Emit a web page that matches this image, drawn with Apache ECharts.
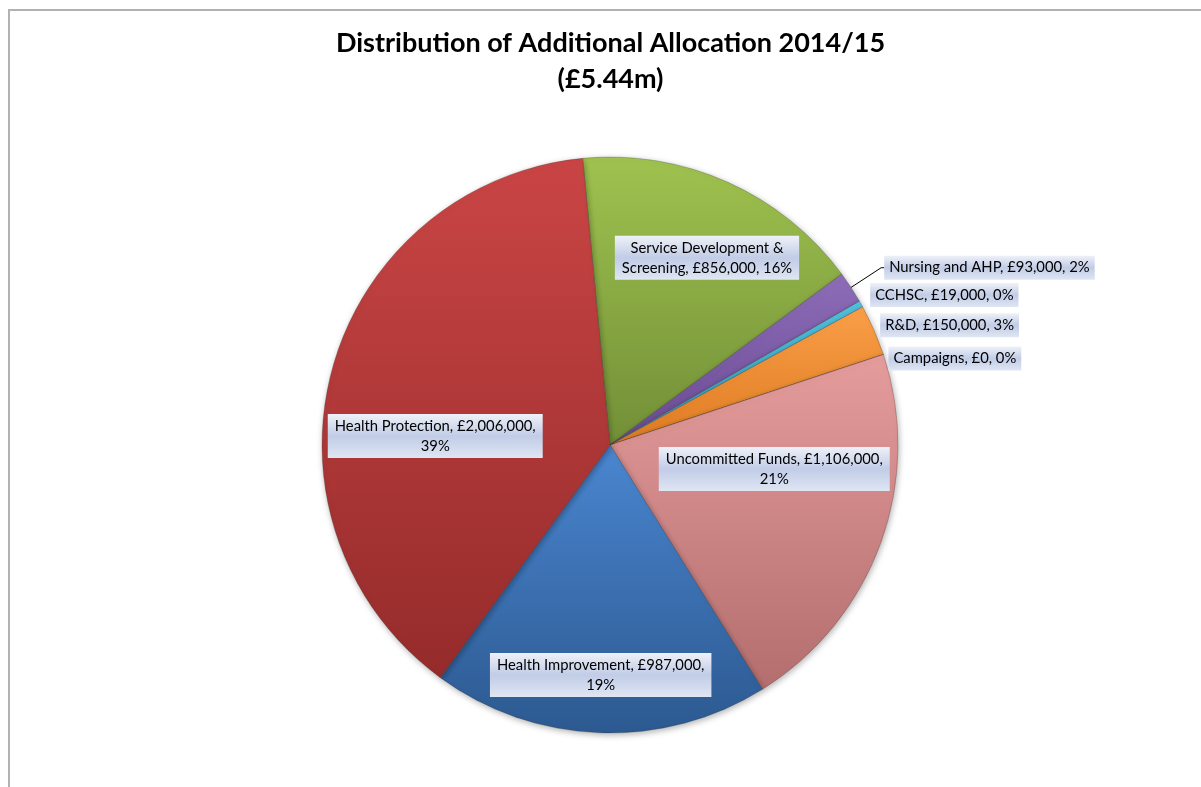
<!DOCTYPE html>
<html>
<head>
<meta charset="utf-8">
<script src="https://cdn.jsdelivr.net/npm/echarts@6/dist/echarts.min.js"></script>
<style>
  html, body { margin: 0; padding: 0; background: #ffffff; }
  #chart { width: 1201px; height: 787px; }
</style>
</head>
<body>
<div id="chart"></div>
<script>
// Budget lines, in drawing order (clockwise from the top)
const categories = [
  'Service Development & Screening',
  'Nursing and AHP',
  'CCHSC',
  'R&D',
  'Campaigns',
  'Uncommitted Funds',
  'Health Improvement',
  'Health Protection'
];
const amounts = [856000, 93000, 19000, 150000, 0, 1106000, 987000, 2006000];
const titleLines = ['Distribution of Additional Allocation 2014/15', '(£5.44m)'];

// Slice fills: [top, bottom] of a soft vertical gradient
const sliceColors = {
  'Service Development & Screening': ['#9fc24f', '#728f37'],
  'Nursing and AHP': ['#8d6db8', '#694a92'],
  'CCHSC': ['#52c3de', '#2f98b3'],
  'R&D': ['#fa9f48', '#de7b22'],
  'Campaigns': ['#b9cde8', '#8fa8cc'],
  'Uncommitted Funds': ['#e59c9c', '#b46e6e'],
  'Health Improvement': ['#4a86d0', '#2c5990'],
  'Health Protection': ['#ca4545', '#952b2b']
};

// Label placement per slice; wrap: where a two-line label breaks
const labelSetup = {
  'Service Development & Screening': { inside: true, wrap: 'name', shift: [37, -53] },
  'Nursing and AHP': { inside: false, line: [36, 3], shift: [0, 0] },
  'CCHSC': { inside: false, shift: [4, -9] },
  'R&D': { inside: false, shift: [1, -5] },
  'Campaigns': { inside: false, shift: [0, 4] },
  'Uncommitted Funds': { inside: true, wrap: 'percent', shift: [26, -26] },
  'Health Improvement': { inside: true, wrap: 'percent', shift: [-4, 83] },
  'Health Protection': { inside: true, wrap: 'percent', shift: [-33, 30] }
};

const labelFont = 'Lato, "Open Sans", sans-serif';

const labelBox = {
  type: 'linear', x: 0, y: 0, x2: 0, y2: 1,
  colorStops: [
    { offset: 0, color: '#eef1f8' },
    { offset: 0.5, color: '#c1cce6' },
    { offset: 1, color: '#dfe6f3' }
  ]
};

function fmtMoney(v) {
  return '£' + v.toLocaleString('en-GB');
}

function labelText(p) {
  const ls = labelSetup[p.name];
  const money = fmtMoney(p.value);
  const pct = p.percent + '%';
  if (ls.wrap === 'percent') {
    return p.name + ', ' + money + ',\n' + pct;
  }
  if (ls.wrap === 'name') {
    const words = p.name.split(' ');
    const cut = words.length - 1;
    return words.slice(0, cut).join(' ') + '\n' + words.slice(cut).join(' ') + ', ' + money + ', ' + pct;
  }
  return p.name + ', ' + money + ', ' + pct;
}

const pieData = categories.map(function (name, i) {
  const c = sliceColors[name];
  const ls = labelSetup[name];
  const item = {
    name: name,
    value: amounts[i],
    itemStyle: {
      color: {
        type: 'linear', x: 0, y: 0, x2: 0, y2: 1,
        colorStops: [{ offset: 0, color: c[0] }, { offset: 1, color: c[1] }]
      }
    },
    label: { position: ls.inside ? 'inside' : 'outside' },
    labelLine: { show: false, length: 0, length2: 0 }
  };
  if (ls.inside) {
    item.label.align = 'center';
    item.label.padding = [2, 7, 2, 7];
  }
  if (ls.line) {
    item.labelLine = { show: true, length: ls.line[0], length2: ls.line[1],
      lineStyle: { color: '#000000', width: 1 } };
    item.label.distanceToLabelLine = 0;
  }
  return item;
});

const chart = echarts.init(document.getElementById('chart'), null, { renderer: 'canvas' });

chart.setOption({
  backgroundColor: '#ffffff',
  animation: false,
  title: {
    text: titleLines.join('\n'),
    left: 605.5,
    top: 20,
    textAlign: 'center',
    textStyle: {
      fontFamily: labelFont,
      fontWeight: 'bold',
      fontSize: 27,
      lineHeight: 36,
      color: '#000000'
    }
  },
  graphic: [{
    type: 'rect',
    shape: { x: 9, y: 10, width: 1400, height: 1000 },
    style: { fill: 'none', stroke: '#b2b2b2', lineWidth: 2 },
    silent: true,
    z: -1
  }],
  series: [{
    type: 'pie',
    center: [610, 445],
    radius: 288,
    startAngle: 95.45,
    clockwise: true,
    avoidLabelOverlap: false,
    percentPrecision: 0,
    stillShowZeroSum: true,
    data: pieData,
    itemStyle: {
      borderColor: 'rgba(40,40,40,0.35)',
      borderWidth: 0.7,
      shadowBlur: 6,
      shadowColor: 'rgba(0,0,0,0.3)',
      shadowOffsetX: 1,
      shadowOffsetY: 2
    },
    label: {
      show: true,
      formatter: labelText,
      fontFamily: labelFont,
      fontSize: 14.8,
      lineHeight: 20,
      color: '#000000',
      backgroundColor: labelBox,
      padding: [2, 5, 2, 5]
    },
    labelLayout: function (p) {
      const s = labelSetup[categories[p.dataIndex]].shift;
      return { dx: s[0], dy: s[1] };
    },
    emphasis: { disabled: true }
  }]
});
</script>
</body>
</html>
